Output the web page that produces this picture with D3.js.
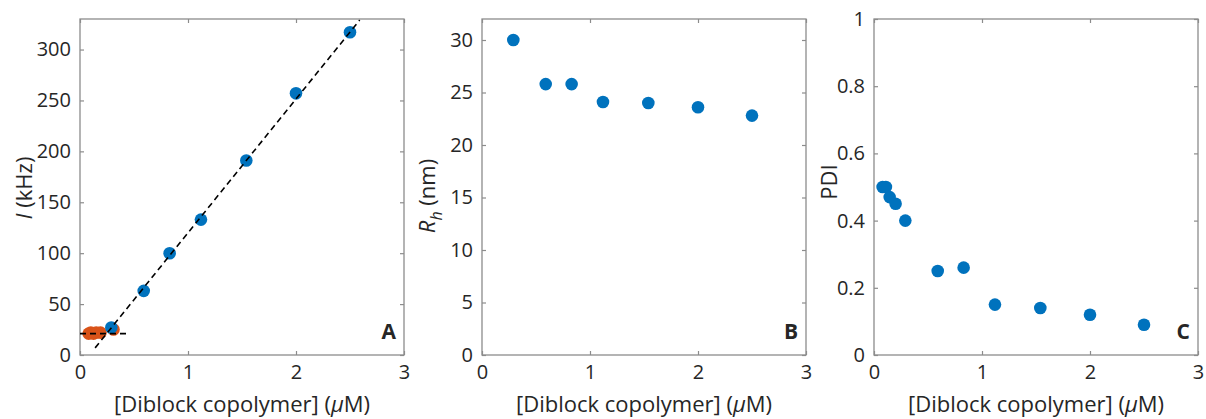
<!DOCTYPE html>
<html>
<head>
<meta charset="utf-8">
<script src="https://cdnjs.cloudflare.com/ajax/libs/d3/7.8.5/d3.min.js"></script>
<style>
  html, body { margin: 0; padding: 0; background: #fff; }
  svg text { font-family: "Open Sans", "Noto Sans", sans-serif; fill: #262626; }
</style>
</head>
<body>
<svg id="chart" width="1206" height="419"></svg>
<script>
// concentration in uM
var concA = [0.29, 0.59, 0.83, 1.12, 1.54, 2.0, 2.5];
var intensityA = [27, 63, 100, 133, 191, 257, 317];
var concLow = [0.08, 0.1, 0.125, 0.15, 0.19, 0.31];
var intensityLow = [21, 22, 21, 22, 22, 25];
var fitLine = [[0.14, 7], [2.59, 329]];
var baseLine = [[0, 21], [0.43, 21]];

var concB = [0.29, 0.59, 0.83, 1.12, 1.54, 2.0, 2.5];
var rhB = [30, 25.8, 25.8, 24.1, 24.0, 23.6, 22.8];

var concC = [0.08, 0.11, 0.145, 0.2, 0.29, 0.59, 0.83, 1.12, 1.54, 2.0, 2.5];
var pdiC = [0.50, 0.50, 0.47, 0.45, 0.40, 0.25, 0.26, 0.15, 0.14, 0.12, 0.09];

var xTicks = [0, 1, 2, 3];
var yTicksA = [0, 50, 100, 150, 200, 250, 300];
var yTicksB = [0, 5, 10, 15, 20, 25, 30];
var yTicksC = [0, 0.2, 0.4, 0.6, 0.8, 1];

var blue = "#0072BD", orange = "#D95319";
var svg = d3.select("#chart");
var top0 = 19, bottom0 = 355, w = 324;

function panel(left, yMax, yTicks, yFmt, letter) {
  var x = d3.scaleLinear().domain([0, 3]).range([left, left + w]);
  var y = d3.scaleLinear().domain([0, yMax]).range([bottom0, top0]);
  var g = svg.append("g");

  g.append("rect")
    .attr("x", left).attr("y", top0)
    .attr("width", w).attr("height", bottom0 - top0)
    .attr("fill", "none").attr("stroke", "#8c8c8c").attr("stroke-width", 1.3);

  var axes = [
    [d3.axisBottom(x).tickValues(xTicks).tickSize(-4).tickPadding(10).tickFormat(d3.format("d")), bottom0, 0, true],
    [d3.axisTop(x).tickValues(xTicks).tickSize(-4), top0, 0, false],
    [d3.axisLeft(y).tickValues(yTicks).tickSize(-4).tickPadding(9).tickFormat(yFmt), 0, left, true],
    [d3.axisRight(y).tickValues(yTicks).tickSize(-4), 0, left + w, false]
  ];
  axes.forEach(function(a) {
    var ax = g.append("g")
      .attr("transform", "translate(" + a[2] + "," + a[1] + ")")
      .call(a[0]);
    ax.select(".domain").remove();
    ax.selectAll("line").attr("stroke", "#8c8c8c").attr("stroke-width", 1.2);
    if (a[3]) {
      ax.selectAll("text").style("font-size", "20px").attr("fill", "#262626");
    } else {
      ax.selectAll("text").remove();
    }
  });

  g.append("text")
    .attr("x", left + w / 2).attr("y", 412)
    .attr("text-anchor", "middle")
    .style("font-size", "22px")
    .html('[Diblock copolymer] (<tspan font-style="italic">μ</tspan>M)');

  g.append("text")
    .attr("x", left + w - 8).attr("y", 339)
    .attr("text-anchor", "end")
    .style("font-size", "21px").style("font-weight", "bold")
    .attr("fill", "#000")
    .text(letter);

  return { x: x, y: y, g: g };
}

function dots(p, xs, ys, color) {
  p.g.selectAll(null)
    .data(xs.map(function(d, i) { return [d, ys[i]]; }))
    .enter().append("circle")
    .attr("cx", function(d) { return p.x(d[0]); })
    .attr("cy", function(d) { return p.y(d[1]); })
    .attr("r", 6.3)
    .attr("fill", color);
}

function dashed(p, pts) {
  p.g.append("path")
    .attr("d", d3.line().x(function(d) { return p.x(d[0]); }).y(function(d) { return p.y(d[1]); })(pts))
    .attr("fill", "none").attr("stroke", "#000")
    .attr("stroke-width", 1.6).attr("stroke-dasharray", "6,4");
}

// panel A
var pA = panel(80, 330, yTicksA, d3.format("d"), "A");
dots(pA, concLow, intensityLow, orange);
dots(pA, concA, intensityA, blue);
dashed(pA, fitLine);
dashed(pA, baseLine);
svg.append("text")
  .attr("transform", "translate(32,188) rotate(-90)")
  .attr("text-anchor", "middle")
  .style("font-size", "22px")
  .html('<tspan font-style="italic">I</tspan> (kHz)');

// panel B
var pB = panel(482, 32, yTicksB, d3.format("d"), "B");
dots(pB, concB, rhB, blue);
svg.append("text")
  .attr("transform", "translate(435,196) rotate(-90)")
  .attr("text-anchor", "middle")
  .style("font-size", "22px")
  .html('<tspan font-style="italic">R</tspan><tspan font-style="italic" font-size="16px" dy="7">h</tspan><tspan dy="-7"> (nm)</tspan>');

// panel C
var pC = panel(874, 1, yTicksC, function(d) { return d === 0 || d === 1 ? String(d) : d3.format(".1f")(d); }, "C");
dots(pC, concC, pdiC, blue);
svg.append("text")
  .attr("transform", "translate(837,182) rotate(-90)")
  .attr("text-anchor", "middle")
  .style("font-size", "22px")
  .text("PDI");
</script>
</body>
</html>
